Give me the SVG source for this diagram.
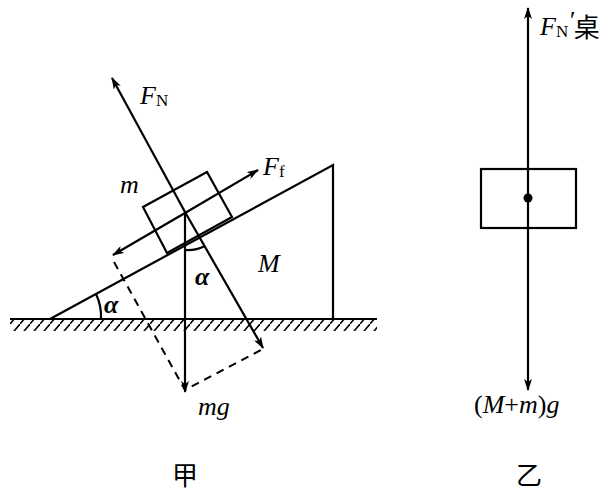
<svg xmlns="http://www.w3.org/2000/svg" width="609" height="500" viewBox="0 0 609 500">
<style>
.l{stroke:#000;stroke-width:2.2;fill:none}
.d{stroke:#000;stroke-width:2;fill:none;stroke-dasharray:8 6}
.t{font-family:"Liberation Serif",serif;font-style:italic;font-size:26px}
.s{font-family:"Liberation Serif",serif;font-size:17px;font-style:normal}
.a{font-family:"Liberation Serif",serif;font-style:italic;font-weight:bold;font-size:26px}
.c{font-family:"Noto Sans CJK SC",sans-serif;font-size:26px}
</style>
<defs>
<marker id="ar" viewBox="0 0 12 8" refX="11" refY="4" markerWidth="12" markerHeight="8" markerUnits="userSpaceOnUse" orient="auto"><path d="M0,0 L12,4 L0,8 L3,4z"/></marker>
<pattern id="h" width="10" height="12" patternUnits="userSpaceOnUse"><path d="M10,0 L0,12" stroke="#000" stroke-width="1.6"/></pattern>
</defs>
<g id="ground"><line class="l" x1="10" y1="319" x2="377" y2="319"/><rect x="10" y="320" width="367" height="11" fill="url(#h)"/></g>
<g id="wedge"><path class="l" d="M50,319 L333,165 L333,319"/><path class="l" d="M96,294 A52,52 0 0 1 101,319"/></g>
<g id="block"><path class="l" d="M143,207 L207,172 L232,217 L167,253Z"/></g>
<g id="panel2"><rect class="l" x="481" y="169" width="95" height="59"/><circle cx="528" cy="198" r="4.5"/></g>
<g id="connectors">
<line class="l" x1="185" y1="212" x2="112" y2="78" marker-end="url(#ar)"/>
<line class="l" x1="185" y1="213" x2="258" y2="170" marker-end="url(#ar)"/>
<line class="l" x1="185" y1="213" x2="113" y2="255" marker-end="url(#ar)"/>
<line class="l" x1="185" y1="212" x2="185" y2="392" marker-end="url(#ar)"/>
<line class="l" x1="185" y1="212" x2="263" y2="348" marker-end="url(#ar)"/>
<path class="d" d="M114,262 L185,390 L263,349"/>
<path class="l" d="M185,250 A38,38 0 0 0 205,246"/>
<line class="l" x1="528" y1="198" x2="528" y2="8" marker-end="url(#ar)"/>
<line class="l" x1="528" y1="198" x2="528" y2="390" marker-end="url(#ar)"/>
</g>
<g id="labels">
<text class="t" x="140" y="104">F<tspan class="s" dy="2">N</tspan></text>
<text class="t" x="120" y="193">m</text>
<text class="t" x="263" y="175">F<tspan class="s" dy="2">f</tspan></text>
<text class="t" x="258" y="272">M</text>
<text class="a" x="195" y="285">α</text>
<text class="a" x="104" y="313">α</text>
<text class="t" x="198" y="415">mg</text>
<text class="t" x="540" y="35">F<tspan class="s" dy="2">N</tspan><tspan dy="-8">′</tspan><tspan class="c" font-size="16" font-style="normal" dy="8">桌</tspan></text>
<text class="t" x="474" y="413"><tspan font-style="normal">(</tspan>M<tspan font-style="normal">+</tspan>m<tspan font-style="normal">)</tspan>g</text>
<text class="c" x="172" y="485">甲</text>
<text class="c" x="516" y="485">乙</text>
</g>
</svg>
